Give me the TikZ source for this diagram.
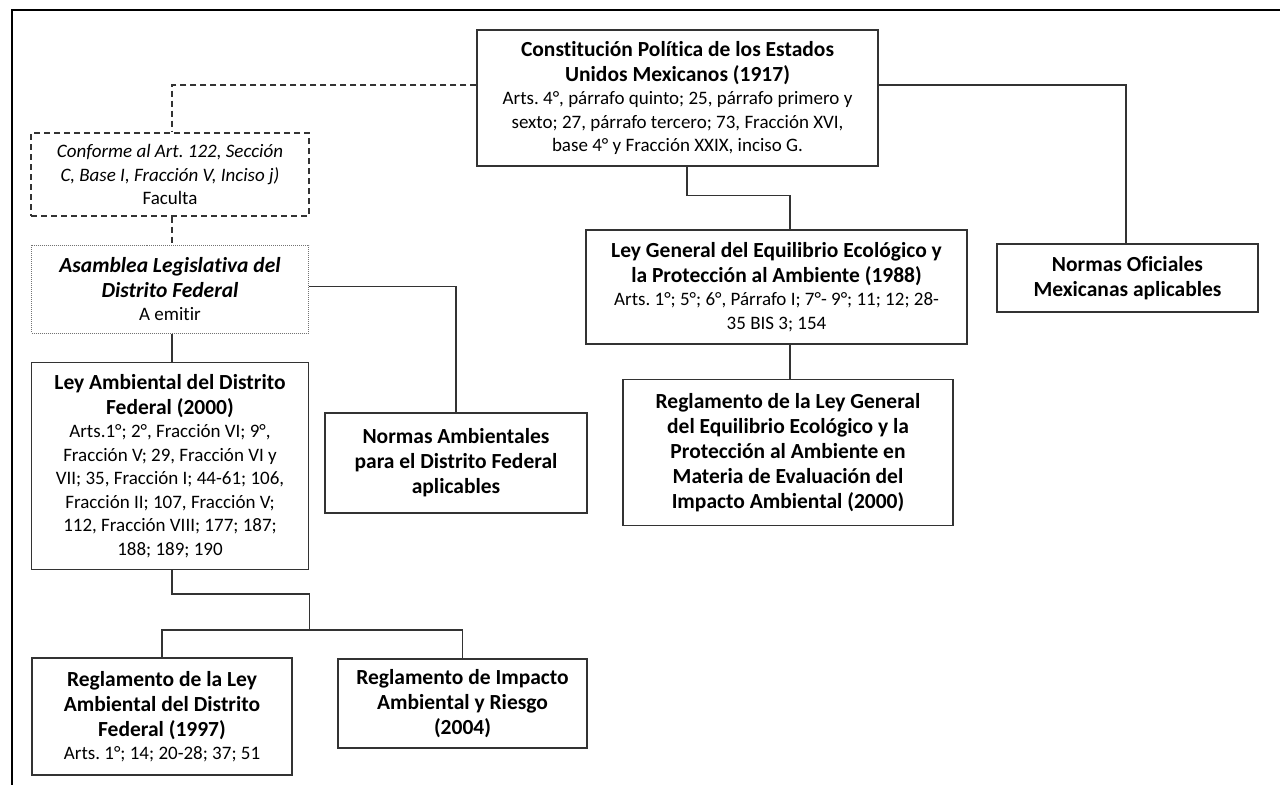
\documentclass[tikz,border=0pt]{standalone}
\usepackage{fontspec}
\setmainfont{Carlito}[Ligatures={NoCommon}]
\usepackage{tikz}
\usetikzlibrary{positioning}

\newcommand{\lawtitle}{\fontsize{21.5}{25}\selectfont\bfseries}
\newcommand{\lawbody}{\fontsize{19}{23.5}\selectfont}
\frenchspacing

\begin{document}
\begin{tikzpicture}[
  x=1pt, y=-1pt,
  every node/.style={font=\lawbody, align=flush center, inner xsep=3pt, inner ysep=2pt},
  lawBox/.style={draw=black!80, line width=1.3pt},
  lawDash/.style={lawBox, dash pattern=on 6pt off 4pt},
  lawDot/.style={draw=black!55, line width=1.1pt, dash pattern=on 1pt off 1pt},
  link/.style={draw=black!80, line width=1.3pt},
  linkDash/.style={link, dash pattern=on 6pt off 4pt}
]
  \useasboundingbox (0,0) rectangle (1280,785);

  % --- Rahmen ---
  \draw[line width=2.6pt, line join=miter] (1280,10) -- (12,10) -- (12,785);

  % --- Bundesebene ---
  \node (const) [lawBox, text width=395pt, minimum height=136pt] at (677.5,98) {%
    {\lawtitle Constitución Política de los Estados\\ Unidos Mexicanos (1917)\par}
    Arts. 4°, párrafo quinto; 25, párrafo primero y\\ sexto; 27, párrafo tercero; 73, Fracción XVI,\\ base 4° y Fracción XXIX, inciso G.};

  \node (lgeepa) [lawBox, text width=375pt, minimum height=114pt] at (776.5,287) {%
    {\lawtitle Ley General del Equilibrio Ecológico y\\ la Protección al Ambiente (1988)\par}
    Arts. 1°; 5°; 6°, Párrafo I; 7°- 9°; 11; 12; 28-\\ 35 BIS 3; 154};

  \node (reglgeepa) [lawBox, text width=324pt, minimum height=146pt, below=34pt of lgeepa, xshift=11.5pt] {%
    {\lawtitle Reglamento de la Ley General\\ del Equilibrio Ecológico y la\\ Protección al Ambiente en\\ Materia de Evaluación del\\ Impacto Ambiental (2000)\par}};

  \node (nom) [lawBox, text width=255pt, minimum height=68pt] at (1127.5,278) {%
    {\lawtitle Normas Oficiales\\ Mexicanas aplicables\par}};

  % --- Distrito Federal ---
  \node (conforme) [lawDash, text width=272pt, minimum height=83pt] at (170,174.5) {%
    {\itshape Conforme al Art. 122, Sección\\ C, Base I, Fracción V, Inciso j)\par}
    Faculta};

  \node (asamblea) [lawDot, text width=271pt, minimum height=88pt, below=28pt of conforme] {%
    {\lawtitle\itshape Asamblea Legislativa del\\ Distrito Federal\par}
    A emitir};

  \node (leyamb) [lawBox, text width=271pt, minimum height=207pt, below=28pt of asamblea] {%
    {\lawtitle Ley Ambiental del Distrito\\ Federal (2000)\par}
    Arts.1°; 2°, Fracción VI; 9°,\\ Fracción V; 29, Fracción VI y\\ VII; 35, Fracción I; 44-61; 106,\\ Fracción II; 107, Fracción V;\\ 112, Fracción VIII; 177; 187;\\ 188; 189; 190};

  \node (normamb) [lawBox, text width=256pt, minimum height=100pt] at (456,463) {%
    {\lawtitle Normas Ambientales\\ para el Distrito Federal\\ aplicables\par}};

  \node (reglamb) [lawBox, text width=254pt, minimum height=117pt] at (162,716.5) {%
    {\lawtitle Reglamento de la Ley\\ Ambiental del Distrito\\ Federal (1997)\par}
    Arts. 1°; 14; 20-28; 37; 51};

  \node (reglimp) [lawBox, text width=243pt, minimum height=89pt] at (462.5,703.5) {%
    {\lawtitle Reglamento de Impacto\\ Ambiental y Riesgo\\ (2004)\par}};

  % --- Verbindungen ---
  \draw[linkDash] ([yshift=13pt]const.west) -| ([xshift=2pt]conforme.north);
  \draw[linkDash] ([xshift=2pt]conforme.south) -- ([xshift=2pt]asamblea.north);
  \draw[link] ([xshift=2pt]asamblea.south) -- ([xshift=2pt]leyamb.north);
  \draw[link] ([yshift=3pt]asamblea.east) -| (normamb.north);

  \coordinate (fork) at ([yshift=-60pt]leyamb.south east);
  \draw[link] ([xshift=2pt]leyamb.south) |- ([yshift=36pt]fork) -- (fork);
  \draw[link] (reglamb.north) |- (fork) -| (reglimp.north);

  \draw[link] ([xshift=9.5pt]const.south) -- ++(0,29) -| ([xshift=13.5pt]lgeepa.north);
  \draw[link] ([xshift=13.5pt]lgeepa.south) -- ([xshift=13.5pt]lgeepa.south |- reglgeepa.north);
  \draw[link] ([yshift=13pt]const.east) -| ([xshift=-1.5pt]nom.north);
\end{tikzpicture}
\end{document}
